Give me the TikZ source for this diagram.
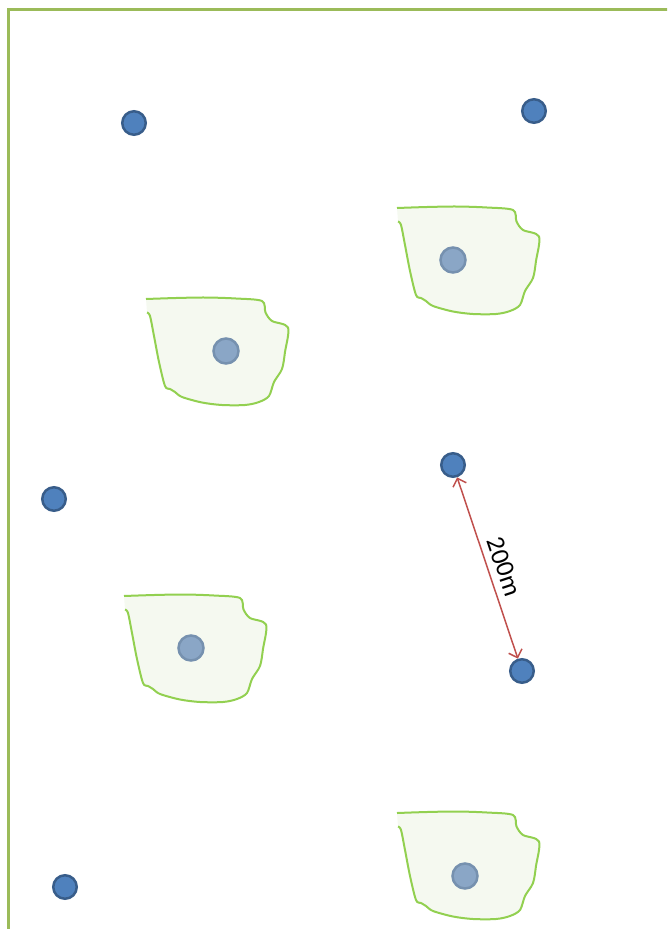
\documentclass[tikz,border=0pt]{standalone}
\usepackage{fontspec}
\newfontfamily\labfont{Carlito}
\usetikzlibrary{arrows.meta}
\definecolor{framegreen}{RGB}{155,187,89}
\definecolor{blobline}{RGB}{146,208,80}
\definecolor{blobfill}{RGB}{245,249,240}
\definecolor{dotfill}{RGB}{79,129,189}
\definecolor{dotline}{RGB}{56,93,138}
\definecolor{fdotfill}{RGB}{138,166,198}
\definecolor{fdotline}{RGB}{118,145,175}
\definecolor{arrowred}{RGB}{192,80,77}
\tikzset{
  wellpt/.style={circle, fill=dotfill, draw=dotline, line width=2.5pt, minimum size=23.5pt, inner sep=0pt},
  fadept/.style={circle, fill=fdotfill, draw=fdotline, line width=2.5pt, minimum size=25pt, inner sep=0pt},
  blobshape/.pic={
    \fill[blobfill] plot[smooth, tension=0.5] coordinates {(0,0) (30,-1) (60,-1.5) (90,-0.5) (116,2) (119.5,13.5) (126,22) (142,28.5) (139,53) (136,70) (128,83) (123,97) (113,103) (99,106) (76,106) (56,103.5) (36,98) (29,93) (24,90) (19,87) (13,63) (8,37) (4,17) (1,13.5)} -- cycle;
    \draw[blobline, line width=2pt, line join=round] plot[smooth, tension=0.5] coordinates {(0,0) (30,-1) (60,-1.5) (90,-0.5) (116,2) (119.5,13.5) (126,22) (142,28.5) (139,53) (136,70) (128,83) (123,97) (113,103) (99,106) (76,106) (56,103.5) (36,98) (29,93) (24,90) (19,87) (13,63) (8,37) (4,17) (1,13.5)};
  }
}
\begin{document}
\begin{tikzpicture}[x=1pt, y=-1pt]
\useasboundingbox (0,0) rectangle (667,929);
\clip (0,0) rectangle (667,929);
% frame
\draw[framegreen, line width=3.5pt] (8.5,940) -- (8.5,9.5) -- (680,9.5);
% plots
\pic at (397,208) {blobshape};
\pic at (146,299) {blobshape};
\pic at (124,596) {blobshape};
\pic at (397,813) {blobshape};
\node[fadept] (f1) at (453,260) {};
\node[fadept] (f2) at (226,351) {};
\node[fadept] (f3) at (191,648) {};
\node[fadept] (f4) at (465,876) {};
% wells
\node[wellpt] (w1) at (134,123) {};
\node[wellpt] (w2) at (534,111) {};
\node[wellpt] (w3) at (54,499) {};
\node[wellpt] (w4) at (65,887) {};
\node[wellpt] (w5) at (453,465) {};
\node[wellpt] (w6) at (522,671) {};
% distance
\draw[arrowred, line width=1.5pt, {Straight Barb[length=7pt,width=14pt]}-{Straight Barb[length=7pt,width=14pt]}] (w5) -- (w6)
  node[pos=0.52, sloped, above=6pt, inner sep=1pt, text=black, font=\labfont\fontsize{26}{30}\selectfont] (lbl) {200m};
\end{tikzpicture}
\end{document}
